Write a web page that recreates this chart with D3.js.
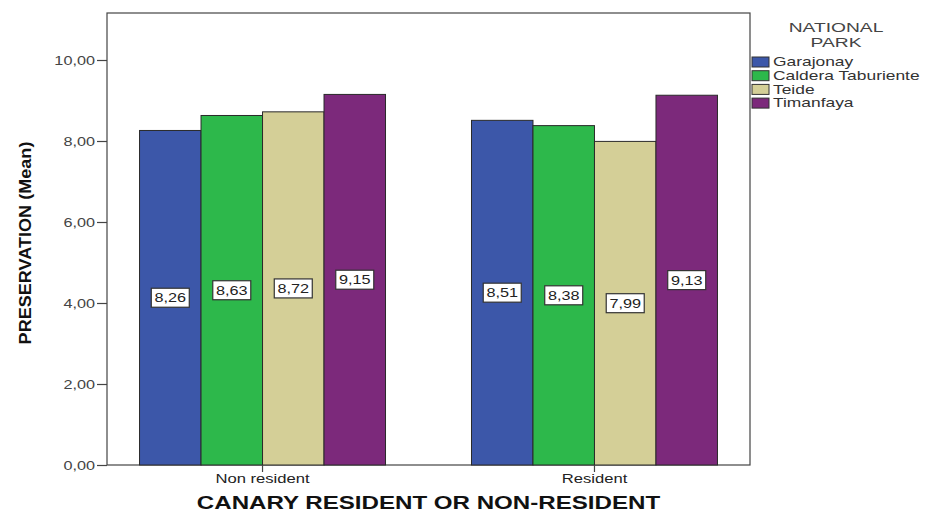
<!DOCTYPE html>
<html>
<head>
<meta charset="utf-8">
<script src="https://cdn.jsdelivr.net/npm/d3@7/dist/d3.min.js"></script>
<style>
  html, body { margin: 0; padding: 0; background: #fff; }
  svg { display: block; font-family: "Liberation Sans", Arial, sans-serif; }
</style>
</head>
<body>
<div id="chart"></div>
<script>
// Mean preservation rating by residence group and national park
const groups = ["Non resident", "Resident"];
const parks = ["Garajonay", "Caldera Taburiente", "Teide", "Timanfaya"];
const garajonay = [8.26, 8.51];
const calderaTaburiente = [8.63, 8.38];
const teide = [8.72, 7.99];
const timanfaya = [9.15, 9.13];
const yTicks = [0, 2, 4, 6, 8, 10];
const parkColors = ["#3c57a9", "#2db84b", "#d4cf97", "#7c297b"];

const seriesByPark = [garajonay, calderaTaburiente, teide, timanfaya];
const rows = groups.map((g, i) => ({
  group: g,
  values: parks.map((p, j) => ({ park: p, value: seriesByPark[j][i] }))
}));

const W = 926, H = 512;
const plot = { left: 107, right: 750, top: 13, bottom: 465 };

const svg = d3.select("#chart").append("svg")
  .attr("width", W).attr("height", H);

const y = d3.scaleLinear().domain([0, 10]).range([plot.bottom, 60]);
const x0 = d3.scaleBand().domain(groups)
  .range([plot.left, plot.right]).paddingInner(0.259).paddingOuter(0.098);
const x1 = d3.scaleBand().domain(parks).range([0, x0.bandwidth()]);
const color = d3.scaleOrdinal().domain(parks).range(parkColors);

const fmt = v => d3.format(".2f")(v).replace(".", ",");

// text drawn with a wide horizontal stretch, anchored at (x, y)
function wideText(parent, x, yPos, sx, txt) {
  return parent.append("text")
    .attr("transform", `translate(${x},${yPos}) scale(${sx},1)`)
    .text(txt);
}

// plot frame
svg.append("rect")
  .attr("x", plot.left).attr("y", plot.top)
  .attr("width", plot.right - plot.left).attr("height", plot.bottom - plot.top)
  .attr("fill", "none").attr("stroke", "#444").attr("stroke-width", 1.2);

// bars
const g = svg.append("g").selectAll("g").data(rows).join("g")
  .attr("transform", d => `translate(${x0(d.group)},0)`);

g.selectAll("rect").data(d => d.values).join("rect")
  .attr("x", d => x1(d.park))
  .attr("y", d => y(d.value))
  .attr("width", x1.bandwidth())
  .attr("height", d => y(0) - y(d.value))
  .attr("fill", d => color(d.park))
  .attr("stroke", "#2a2a2a").attr("stroke-width", 1);

// value labels at half height of each bar
const lab = g.selectAll("g.lab").data(d => d.values).join("g")
  .attr("class", "lab")
  .attr("transform", d => `translate(${x1(d.park) + x1.bandwidth() / 2},${y(d.value / 2)})`);
lab.append("rect")
  .attr("x", -19).attr("y", -9.5).attr("width", 38).attr("height", 19)
  .attr("fill", "#fff").attr("stroke", "#333").attr("stroke-width", 1.2);
lab.append("text")
  .attr("transform", "scale(1.3,1)")
  .attr("text-anchor", "middle").attr("dy", "0.36em")
  .attr("font-size", 12.5).attr("fill", "#222")
  .text(d => fmt(d.value));

// y axis
const yAxis = d3.axisLeft(y).tickValues(yTicks).tickSize(10).tickPadding(0)
  .tickFormat(fmt);
svg.append("g").attr("transform", `translate(${plot.left},0)`).call(yAxis)
  .call(a => a.select(".domain").remove())
  .call(a => a.selectAll("line").attr("stroke", "#444").attr("stroke-width", 1.2))
  .call(a => a.selectAll("text")
    .attr("x", null)
    .attr("transform", "translate(-12,0) scale(1.3,1)")
    .attr("font-size", 12.5).attr("fill", "#444")
    .attr("font-family", "'Liberation Sans', Arial, sans-serif"));

// x axis
const xAxis = d3.axisBottom(x0).tickSize(7).tickPadding(0);
svg.append("g").attr("transform", `translate(0,${plot.bottom})`).call(xAxis)
  .call(a => a.select(".domain").remove())
  .call(a => a.selectAll("line").attr("stroke", "#444").attr("stroke-width", 1.2))
  .call(a => a.selectAll("text")
    .attr("y", null)
    .attr("transform", "translate(0,9) scale(1.33,1)")
    .attr("font-size", 12.5).attr("fill", "#222")
    .attr("font-family", "'Liberation Sans', Arial, sans-serif"));

// axis titles
wideText(svg, (plot.left + plot.right) / 2, 509, 1.34, "CANARY RESIDENT OR NON-RESIDENT")
  .attr("text-anchor", "middle").attr("font-weight", "bold")
  .attr("font-size", 18).attr("fill", "#111");

svg.append("text")
  .attr("transform", `translate(31,243) rotate(-90) scale(1.13,1)`)
  .attr("text-anchor", "middle").attr("font-weight", "bold")
  .attr("font-family", "'Liberation Sans Narrow', 'Liberation Sans', Arial, sans-serif")
  .attr("font-size", 16).attr("fill", "#111")
  .text("PRESERVATION (Mean)");

// legend
const leg = svg.append("g");
wideText(leg, 836, 32, 1.48, "NATIONAL")
  .attr("text-anchor", "middle").attr("font-size", 13).attr("fill", "#444");
wideText(leg, 836, 47, 1.48, "PARK")
  .attr("text-anchor", "middle").attr("font-size", 13).attr("fill", "#444");
const items = leg.selectAll("g.item").data(parks).join("g")
  .attr("class", "item")
  .attr("transform", (d, i) => `translate(752,${62 + i * 13.7})`);
items.append("rect")
  .attr("x", 0).attr("y", -5).attr("width", 17).attr("height", 10)
  .attr("fill", d => color(d)).attr("stroke", "#333").attr("stroke-width", 1);
items.append("text")
  .attr("transform", "translate(21,0) scale(1.45,1)")
  .attr("dy", "0.36em")
  .attr("font-size", 12).attr("fill", "#333")
  .text(d => d);
</script>
</body>
</html>
